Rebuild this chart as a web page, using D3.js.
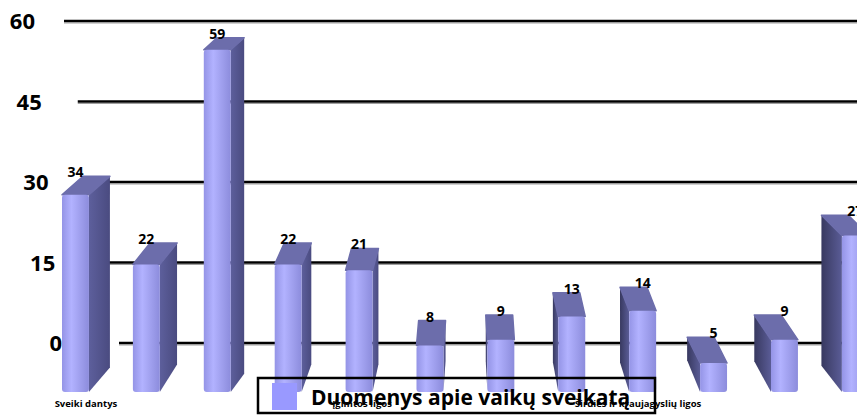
<!DOCTYPE html>
<html>
<head>
<meta charset="utf-8">
<script src="https://cdn.jsdelivr.net/npm/d3@7"></script>
<style>
  body { margin: 0; background: #fff; }
  text { font-family: "Open Sans", "DejaVu Sans", sans-serif; font-weight: bold; }
</style>
</head>
<body>
<div id="chart"></div>
<script>
// Data
const values = [34, 22, 59, 22, 21, 8, 9, 13, 14, 5, 9, 27];
const categoryLabels = ["Sveiki dantys", "", "", "", "Įgimtos ligos", "", "", "", "Širdies ir kraujagyslių ligos", "", "", ""];
const yTicks = [0, 15, 30, 45, 60];
const seriesName = "Duomenys apie vaikų sveikatą";

const width = 857, height = 415;

const svg = d3.select("#chart").append("svg")
  .attr("width", width)
  .attr("height", height);

// Gradients for the 3D faces
const defs = svg.append("defs");
const front = defs.append("linearGradient").attr("id", "front").attr("x1", "0").attr("x2", "1").attr("y1", "0").attr("y2", "0");
front.append("stop").attr("offset", "0").attr("stop-color", "#9494e6");
front.append("stop").attr("offset", "0.35").attr("stop-color", "#b2b2ff");
front.append("stop").attr("offset", "1").attr("stop-color", "#8c8cdc");
const sideR = defs.append("linearGradient").attr("id", "sideR").attr("x1", "0").attr("x2", "1");
sideR.append("stop").attr("offset", "0").attr("stop-color", "#5d5f9c");
sideR.append("stop").attr("offset", "1").attr("stop-color", "#4a4b80");
const sideL = defs.append("linearGradient").attr("id", "sideL").attr("x1", "0").attr("x2", "1");
sideL.append("stop").attr("offset", "0").attr("stop-color", "#383960");
sideL.append("stop").attr("offset", "1").attr("stop-color", "#5a5c96");

// Scales
const x = d3.scaleBand()
  .domain(d3.range(values.length))
  .range([62, 62 + 70.9 * (values.length - 0.62)])
  .paddingInner(0.62)
  .paddingOuter(0);
const bw = x.bandwidth();

const yBar = d3.scaleLinear().domain([0, 60]).range([392, 44]);
const yAxis = d3.scaleLinear().domain([0, 60]).range([343, 21]);
const gridStart = d3.scaleLinear().domain([0, 60]).range([119, 64]);
const labelRight = d3.scaleLinear().domain([0, 60]).range([62, 35]);
// perspective offsets of the bar depth
const depthX = d3.scaleLinear().domain([75, 470]).range([21, 0]);
const depthY = d3.scaleLinear().domain([0, 415]).range([-10, -28]);

// Gridlines
const grid = svg.append("g");
grid.selectAll(".shadow").data(yTicks).enter().append("line")
  .attr("x1", d => gridStart(d)).attr("x2", width)
  .attr("y1", d => yAxis(d) + 2).attr("y2", d => yAxis(d) + 2)
  .attr("stroke", "#a0a0a0").attr("stroke-width", 1);
grid.selectAll(".grid").data(yTicks).enter().append("line")
  .attr("x1", d => gridStart(d)).attr("x2", width)
  .attr("y1", d => yAxis(d)).attr("y2", d => yAxis(d))
  .attr("stroke", "#000").attr("stroke-width", 2.6);

// Tick labels
svg.selectAll(".tick").data(yTicks).enter().append("text")
  .attr("x", d => labelRight(d))
  .attr("y", d => yAxis(d) + 8)
  .attr("text-anchor", "end")
  .style("font-size", "22px")
  .text(d => d);

// Bars
const bars = svg.selectAll(".bar").data(values).enter().append("g").attr("class", "bar");

bars.each(function (v, i) {
  const g = d3.select(this);
  const xl = x(i), xr = xl + bw;
  const y0 = yBar(v), y1 = yBar(0);
  const dx = depthX(xl + bw / 2), dy = depthY(y0);

  const sx = dx >= 0 ? xr : xl;
  g.append("path")
    .attr("d", d3.line()([[sx, y0], [sx + dx, y0 + dy], [sx + dx, y1 + dy - 6], [sx, y1]]) + "Z")
    .attr("fill", dx >= 0 ? "url(#sideR)" : "url(#sideL)")
    .attr("stroke", dx >= 0 ? "#5558926" : "#45467a").attr("stroke-width", 0);

  g.append("path")
    .attr("d", d3.line()([[xl, y0], [xr, y0], [xr + dx, y0 + dy], [xl + dx, y0 + dy]]) + "Z")
    .attr("fill", "#6c6dab")
    .attr("stroke", "#6c6dab").attr("stroke-width", 1.5).attr("stroke-linejoin", "round");

  g.append("rect")
    .attr("x", xl).attr("y", y0)
    .attr("width", bw).attr("height", y1 - y0)
    .attr("rx", 3)
    .attr("fill", "url(#front)");

  g.append("text")
    .attr("x", xl + bw / 2)
    .attr("y", y0 + dy + 1)
    .attr("text-anchor", "middle")
    .style("font-size", "14px")
    .text(v);
});

// Category labels
svg.selectAll(".cat").data(categoryLabels).enter().append("text")
  .attr("x", (d, i) => x(i) + bw / 2 + depthX(x(i) + bw / 2) / 2)
  .attr("y", 407)
  .attr("text-anchor", "middle")
  .style("font-size", "9.5px")
  .text(d => d);

// Legend
const legend = svg.append("g");
legend.append("rect")
  .attr("x", 258).attr("y", 378).attr("width", 397).attr("height", 35)
  .attr("fill", "none").attr("stroke", "#000").attr("stroke-width", 2.5);
legend.append("rect")
  .attr("x", 272).attr("y", 383).attr("width", 25).attr("height", 27)
  .attr("fill", "#9999ff");
legend.append("text")
  .attr("x", 311).attr("y", 405)
  .style("font-size", "21px")
  .text(seriesName);
</script>
</body>
</html>
